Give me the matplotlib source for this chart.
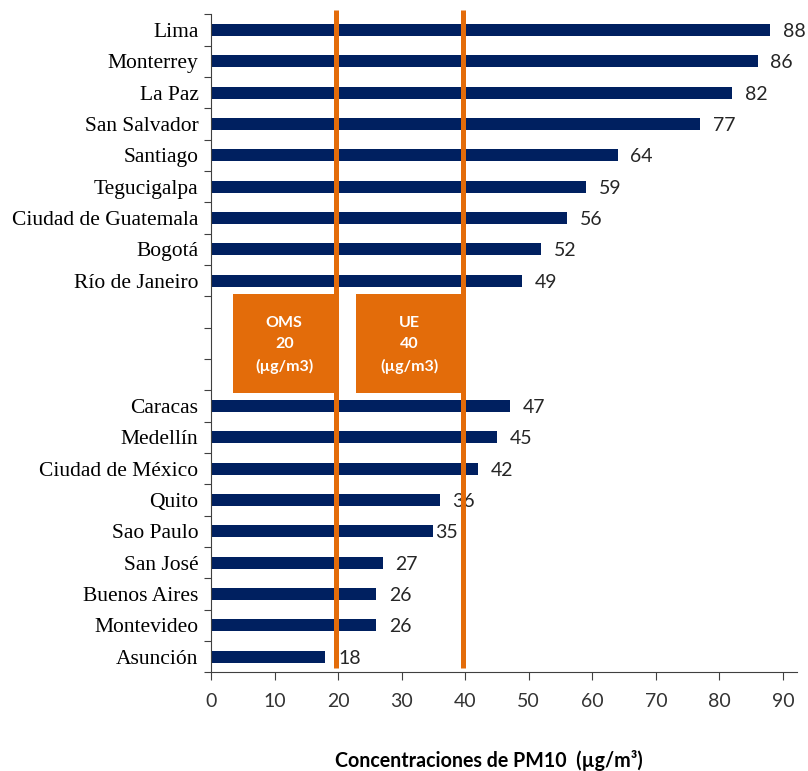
import numpy as np
import matplotlib
matplotlib.use("Agg")
import matplotlib.pyplot as plt
from matplotlib.patches import Rectangle

# top group, then a gap where the standard boxes sit, then the bottom group
cities_top = ["Lima", "Monterrey", "La Paz", "San Salvador", "Santiago",
              "Tegucigalpa", "Ciudad de Guatemala", "Bogotá", "Río de Janeiro"]
values_top = [88, 86, 82, 77, 64, 59, 56, 52, 49]
cities_bottom = ["Caracas", "Medellín", "Ciudad de México", "Quito", "Sao Paulo",
                 "San José", "Buenos Aires", "Montevideo", "Asunción"]
values_bottom = [47, 45, 42, 36, 35, 27, 26, 26, 18]
gap_slots = 3

# reference limits
limit_names = ["OMS", "UE"]
limit_values = [20, 40]

x_ticks = list(range(0, 91, 10))

navy = "#002060"
orange = "#E36C0A"
grey = "#404040"

cities = cities_top + cities_bottom
values = values_top + values_bottom
pos = list(range(len(cities_top))) + \
    list(range(len(cities_top) + gap_slots, len(cities_top) + gap_slots + len(cities_bottom)))
n_slots = len(cities_top) + gap_slots + len(cities_bottom)

fig = plt.figure(figsize=(8.08, 7.71), dpi=100)
ax = fig.add_axes([0.2611, 0.1278, 0.7253, 0.8537])

ax.barh(pos, values, height=0.38, color=navy, zorder=2)

for p, v, c in zip(pos, values, cities):
    off = 0.3 if c == "Sao Paulo" else 2.0
    ax.text(v + off, p, str(v), va="center_baseline", ha="left", fontsize=14,
            family="Lato", color="#262626", zorder=3)

ax.set_xlim(0, 92.2)
ax.set_ylim(n_slots - 0.5, -0.5)

# boxes with the limit names
box_x = [3.46, 22.8]
for bx, name, lim in zip(box_x, limit_names, limit_values):
    ax.add_patch(Rectangle((bx, 8.42), lim - bx, 3.16, facecolor=orange,
                           edgecolor="none", zorder=4))
    ax.text((bx + lim) / 2 - 0.2, 10.05, "%s\n%d\n(µg/m3)" % (name, lim), ha="center",
            va="center", color="white", fontsize=11.5, fontweight="bold",
            family="Lato", linespacing=1.65, zorder=5)

for lim in limit_values:
    ax.plot([lim - 0.3, lim - 0.3], [n_slots - 0.64, -0.64], color=orange, lw=3.6,
            zorder=6, clip_on=False, solid_capstyle="butt")

# y ticks at slot boundaries, labels in between
ax.set_yticks(np.arange(-0.5, n_slots, 1.0))
ax.set_yticklabels([])
ax.set_yticks(pos, minor=True)
ax.set_yticklabels(cities, minor=True, family="Liberation Serif", fontsize=15.5)
ax.tick_params(axis="y", which="major", direction="out", length=5, color=grey)
ax.tick_params(axis="y", which="minor", length=0, pad=9)

ax.set_xticks(x_ticks)
ax.set_xticklabels([str(t) for t in x_ticks], family="Lato", fontsize=14,
                   color="#333333")
ax.tick_params(axis="x", direction="out", length=6, pad=9, color=grey)

for s in ["top", "right"]:
    ax.spines[s].set_visible(False)
for s in ["left", "bottom"]:
    ax.spines[s].set_color(grey)

ax.set_xlabel("Concentraciones de PM10  (µg/m³)", family="Lato",
              fontweight="bold", fontsize=14.1)
ax.xaxis.set_label_coords(0.475, -0.118)

fig.savefig("out.png", dpi=100)
